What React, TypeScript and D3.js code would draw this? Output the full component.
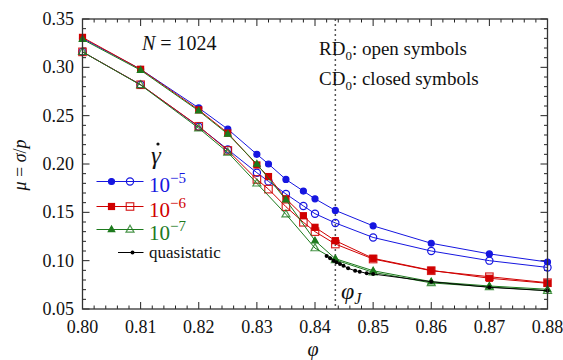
import * as d3 from "d3"

// phi grid shared by the 1e-5 and 1e-6 runs
const phiFine = [0.80, 0.81, 0.82, 0.825, 0.83, 0.832, 0.835, 0.838, 0.84, 0.8435, 0.85, 0.86, 0.87, 0.88]
const phiGreen = [0.80, 0.81, 0.82, 0.825, 0.83, 0.835, 0.84, 0.8435, 0.85, 0.86, 0.87, 0.88]
const phiQuasi = [0.842, 0.8426, 0.8432, 0.8437, 0.8443, 0.8449, 0.8457, 0.8469, 0.8477, 0.8489, 0.85, 0.86, 0.87, 0.88]

const blueClosed = [0.330, 0.298, 0.258, 0.236, 0.210, 0.200, 0.184, 0.172, 0.164, 0.152, 0.136, 0.118, 0.107, 0.0986]
const blueOpen = [0.316, 0.282, 0.2386, 0.215, 0.191, 0.182, 0.169, 0.1566, 0.1486, 0.139, 0.124, 0.110, 0.100, 0.093]
const redClosed = [0.331, 0.298, 0.256, 0.232, 0.199, 0.187, 0.164, 0.1465, 0.1345, 0.1207, 0.1024, 0.090, 0.0818, 0.0766]
const redOpen = [0.316, 0.282, 0.239, 0.214, 0.184, 0.174, 0.1558, 0.1397, 0.130, 0.1172, 0.1017, 0.0896, 0.0834, 0.0772]
const greenClosed = [0.329, 0.297, 0.255, 0.231, 0.200, 0.163, 0.1207, 0.102, 0.0896, 0.0783, 0.0738, 0.0704]
const greenOpen = [0.316, 0.2817, 0.237, 0.212, 0.180, 0.148, 0.113, 0.1007, 0.088, 0.077, 0.0728, 0.069]
const quasi = [0.1048, 0.1024, 0.100, 0.0983, 0.0965, 0.0948, 0.0921, 0.0896, 0.0886, 0.0869, 0.0862, 0.0782, 0.0724, 0.0689]

const xTicks = [0.80, 0.81, 0.82, 0.83, 0.84, 0.85, 0.86, 0.87, 0.88]
const yTicks = [0.05, 0.10, 0.15, 0.20, 0.25, 0.30, 0.35]
const phiJ = 0.8435

const BLUE = "#1616e0"
const RED = "#d00000"
const GREEN = "#1d7a1d"

const W = 563, H = 360
const m = { left: 82.5, right: 547.5, top: 19, bottom: 309 }
const serif = "'Times New Roman', 'Liberation Serif', 'DejaVu Serif', Tinos, serif"

const x = d3.scaleLinear().domain([0.80, 0.88]).range([m.left, m.right])
const y = d3.scaleLinear().domain([0.05, 0.35]).range([m.bottom, m.top])

type Shape = "circle" | "square" | "triangle" | "dot"

function Marker({ cx, cy, shape, color, filled }: { cx: number, cy: number, shape: Shape, color: string, filled: boolean }) {
  const sw = 1.2
  if (shape === "circle") {
    const r = filled ? 3 : 3.6
    return <circle cx={cx} cy={cy} r={r} fill={filled ? color : "none"} stroke={color} strokeWidth={sw} />
  }
  if (shape === "square") {
    const s = filled ? 6 : 7.5
    return <rect x={cx - s / 2} y={cy - s / 2} width={s} height={s} fill={filled ? color : "none"} stroke={color} strokeWidth={sw} opacity={filled ? 1 : 0.85} />
  }
  if (shape === "triangle") {
    const s = filled ? 6.5 : 8
    const h = s * 0.87
    const p = `${cx},${cy - h * 0.62} ${cx - s / 2},${cy + h * 0.38} ${cx + s / 2},${cy + h * 0.38}`
    return <polygon points={p} fill={filled ? color : "none"} stroke={color} strokeWidth={sw} opacity={filled ? 1 : 0.8} />
  }
  return <circle cx={cx} cy={cy} r={2} fill={color} />
}

function Series({ xs, ys, color, shape, filled }: { xs: number[], ys: number[], color: string, shape: Shape, filled: boolean }) {
  const pts: [number, number][] = xs.map((v, i) => [x(v), y(ys[i])])
  const line = d3.line()(pts) || ""
  return (
    <g>
      <path d={line} fill="none" stroke={color} strokeWidth={1} />
      {pts.map(([cx, cy], i) => <Marker key={i} cx={cx} cy={cy} shape={shape} color={color} filled={filled} />)}
    </g>
  )
}

function LegendRow({ ly, color, shape, exp }: { ly: number, color: string, shape: Shape, exp: string }) {
  return (
    <g>
      <line x1={96.5} x2={143.5} y1={ly} y2={ly} stroke={color} strokeWidth={1} />
      <Marker cx={111.5} cy={ly} shape={shape} color={color} filled={true} />
      <Marker cx={130} cy={ly} shape={shape} color={color} filled={false} />
      <text x={149} y={ly + 10} fill={color} fontSize={21}>
        10<tspan dy={-9} fontSize={15}>−{exp}</tspan>
      </text>
    </g>
  )
}

export default function App() {
  const xMinor = d3.range(0, 41).map(i => 0.80 + i * 0.002)
  const yMinor = d3.range(0, 31).map(i => 0.05 + i * 0.01)
  const fmt = d3.format(".2f")
  return (
    <svg width={W} height={H} style={{ display: "block", position: "absolute", left: 0, top: 0, fontFamily: serif }}>
      <rect width={W} height={H} fill="white" />

      {/* ticks, inward on all four sides */}
      {xMinor.map((v, i) => {
        const len = i % 5 === 0 ? 7 : 3.5
        return (
          <g key={"xm" + i} stroke="#222" strokeWidth={1}>
            <line x1={x(v)} x2={x(v)} y1={m.bottom} y2={m.bottom - len} />
            <line x1={x(v)} x2={x(v)} y1={m.top} y2={m.top + len} />
          </g>
        )
      })}
      {yMinor.map((v, i) => {
        const len = i % 5 === 0 ? 7 : 3.5
        return (
          <g key={"ym" + i} stroke="#222" strokeWidth={1}>
            <line x1={m.left} x2={m.left + len} y1={y(v)} y2={y(v)} />
            <line x1={m.right} x2={m.right - len} y1={y(v)} y2={y(v)} />
          </g>
        )
      })}

      {xTicks.map(v => (
        <text key={"xt" + v} x={x(v)} y={333} textAnchor="middle" fontSize={18} fill="#111">{fmt(v)}</text>
      ))}
      {yTicks.map(v => (
        <text key={"yt" + v} x={74} y={y(v) + 6} textAnchor="end" fontSize={18} fill="#111">{fmt(v)}</text>
      ))}

      {/* phi_J marker */}
      <line x1={x(phiJ)} x2={x(phiJ)} y1={m.top} y2={m.bottom} stroke="#555" strokeWidth={1.5} strokeDasharray="2,3" />

      <Series xs={phiFine} ys={blueClosed} color={BLUE} shape="circle" filled={true} />
      <Series xs={phiFine} ys={blueOpen} color={BLUE} shape="circle" filled={false} />
      <Series xs={phiFine} ys={redClosed} color={RED} shape="square" filled={true} />
      <Series xs={phiFine} ys={redOpen} color={RED} shape="square" filled={false} />
      <Series xs={phiGreen} ys={greenClosed} color={GREEN} shape="triangle" filled={true} />
      <Series xs={phiGreen} ys={greenOpen} color={GREEN} shape="triangle" filled={false} />
      <Series xs={phiQuasi} ys={quasi} color="#000" shape="dot" filled={true} />

      <rect x={m.left} y={m.top} width={m.right - m.left} height={m.bottom - m.top} fill="none" stroke="#333" strokeWidth={1.3} />

      {/* annotations */}
      <text x={142} y={50} fontSize={20} fill="#111"><tspan fontStyle="italic">N</tspan> = 1024</text>
      <text x={319} y={55} fontSize={19} fill="#111">RD<tspan dy={5} fontSize={13}>0</tspan><tspan dy={-5}>: open symbols</tspan></text>
      <text x={319} y={85} fontSize={19} fill="#111">CD<tspan dy={5} fontSize={13}>0</tspan><tspan dy={-5}>: closed symbols</tspan></text>
      <text x={341} y={299} fontSize={24} fontStyle="italic" fill="#111">φ<tspan dy={5} fontSize={16}>J</tspan></text>

      {/* legend */}
      <text x={151} y={164} fontSize={25} fontStyle="italic" fill="#111">γ</text>
      <circle cx={158} cy={144} r={1.6} fill="#111" />
      <LegendRow ly={181.5} color={BLUE} shape="circle" exp="5" />
      <LegendRow ly={206.5} color={RED} shape="square" exp="6" />
      <LegendRow ly={229.5} color={GREEN} shape="triangle" exp="7" />
      <line x1={118} x2={143.5} y1={252.5} y2={252.5} stroke="#000" strokeWidth={1} />
      <circle cx={132.5} cy={252.5} r={2} fill="#000" />
      <text x={149} y={258} fontSize={17} fill="#111">quasistatic</text>

      {/* axis titles */}
      <text x={313} y={356} textAnchor="middle" fontSize={20} fontStyle="italic" fill="#111">φ</text>
      <text transform="translate(26,165) rotate(-90)" textAnchor="middle" fontSize={18} fill="#111">
        <tspan fontStyle="italic">μ</tspan> = <tspan fontStyle="italic">σ</tspan>/<tspan fontStyle="italic">p</tspan>
      </text>
    </svg>
  )
}
